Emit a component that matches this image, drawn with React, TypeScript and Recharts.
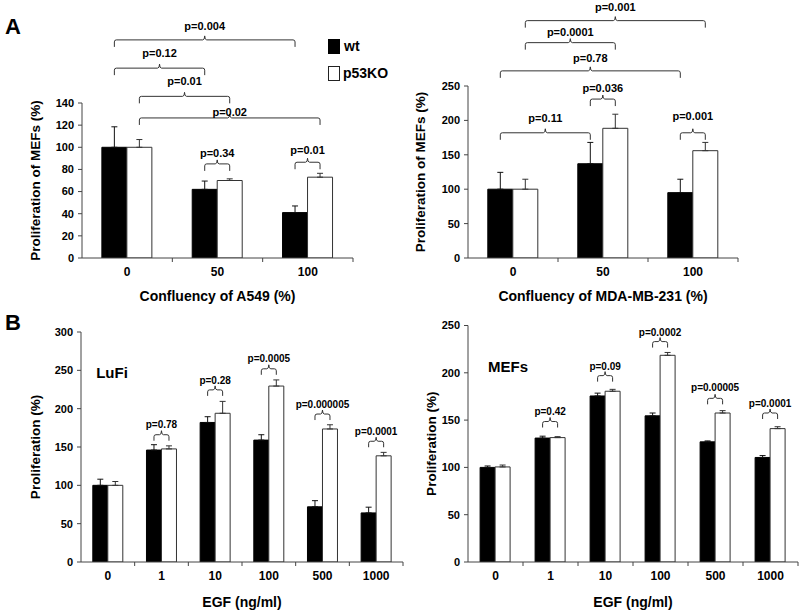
import React from 'react';
import { BarChart, Bar, XAxis, YAxis, ErrorBar, ReferenceLine, ReferenceDot } from 'recharts';

const FONT = '"Liberation Sans", Arial, Helvetica, sans-serif';
const AXIS = '#444';
const BRACKET = '#333';
const Y_AXIS_W = 60;

// ---------- Series ----------
const seriesNames = ['wt', 'p53KO'];

// Panel A (left): co-culture with A549
const a549Categories = ['0', '50', '100'];
const a549Wt = [100, 62, 41];
const a549WtErr = [18.5, 7.5, 6];
const a549Ko = [100, 70, 73];
const a549KoErr = [7, 1.5, 3.5];
const a549Ticks = [0, 20, 40, 60, 80, 100, 120, 140];

// Panel A (right): co-culture with MDA-MB-231
const mdaCategories = ['0', '50', '100'];
const mdaWt = [100, 137, 95];
const mdaWtErr = [24.5, 31, 19.5];
const mdaKo = [100, 188.5, 156];
const mdaKoErr = [14.5, 20.5, 12];
const mdaTicks = [0, 50, 100, 150, 200, 250];

// Panel B (left): LuFi, EGF
const egfCategories = ['0', '1', '10', '100', '500', '1000'];
const lufiWt = [100, 146, 182, 159, 72, 64];
const lufiWtErr = [8, 7, 7.5, 7, 8, 7.5];
const lufiKo = [100, 147.5, 194, 229.5, 173.5, 138.5];
const lufiKoErr = [5, 4, 15.5, 8, 5.5, 4.5];
const lufiTicks = [0, 50, 100, 150, 200, 250, 300];

// Panel B (right): MEFs, EGF
const mefWt = [100, 131, 175.5, 154.5, 127, 110.5];
const mefWtErr = [1.5, 2, 3, 3, 1, 2];
const mefKo = [100.5, 131.5, 180.5, 218.5, 157.5, 141];
const mefKoErr = [2, 1, 2, 3, 2.5, 2];
const mefTicks = [0, 50, 100, 150, 200, 250];

// ---------- Significance brackets: from bar, to bar, bracket level, label level ----------
type S = 'wt' | 'ko';
type Br = { p: string; a: [number, S]; b: [number, S]; y: number; ly: number };

const a549Brackets: Br[] = [
  { p: 'p=0.004', a: [0, 'wt'], b: [2, 'wt'], y: 197, ly: 210 },
  { p: 'p=0.12', a: [0, 'wt'], b: [1, 'wt'], y: 171.5, ly: 185.5 },
  { p: 'p=0.01', a: [0, 'ko'], b: [1, 'ko'], y: 146, ly: 159.5 },
  { p: 'p=0.02', a: [0, 'ko'], b: [2, 'ko'], y: 126.5, ly: 131.5 },
  { p: 'p=0.34', a: [1, 'wt'], b: [1, 'ko'], y: 85, ly: 95 },
  { p: 'p=0.01', a: [2, 'wt'], b: [2, 'ko'], y: 86.5, ly: 97.5 },
];

const mdaBrackets: Br[] = [
  { p: 'p=0.001', a: [0, 'ko'], b: [2, 'ko'], y: 345, ly: 365 },
  { p: 'p=0.0001', a: [0, 'ko'], b: [1, 'ko'], y: 313, ly: 329 },
  { p: 'p=0.78', a: [0, 'wt'], b: [2, 'wt'], y: 272, ly: 290 },
  { p: 'p=0.036', a: [1, 'wt'], b: [1, 'ko'], y: 231, ly: 247 },
  { p: 'p=0.11', a: [0, 'wt'], b: [1, 'wt'], y: 182, ly: 203 },
  { p: 'p=0.001', a: [2, 'wt'], b: [2, 'ko'], y: 182, ly: 206 },
];

const lufiBrackets: Br[] = [
  { p: 'p=0.78', a: [1, 'wt'], b: [1, 'ko'], y: 166, ly: 180 },
  { p: 'p=0.28', a: [2, 'wt'], b: [2, 'ko'], y: 224.5, ly: 237 },
  { p: 'p=0.0005', a: [3, 'wt'], b: [3, 'ko'], y: 252, ly: 266 },
  { p: 'p=0.000005', a: [4, 'wt'], b: [4, 'ko'], y: 193, ly: 206 },
  { p: 'p=0.0001', a: [5, 'wt'], b: [5, 'ko'], y: 157.5, ly: 170 },
];

const mefBrackets: Br[] = [
  { p: 'p=0.42', a: [1, 'wt'], b: [1, 'ko'], y: 148.5, ly: 159 },
  { p: 'p=0.09', a: [2, 'wt'], b: [2, 'ko'], y: 197, ly: 207 },
  { p: 'p=0.0002', a: [3, 'wt'], b: [3, 'ko'], y: 233, ly: 243 },
  { p: 'p=0.00005', a: [4, 'wt'], b: [4, 'ko'], y: 173, ly: 184 },
  { p: 'p=0.0001', a: [5, 'wt'], b: [5, 'ko'], y: 157.5, ly: 168 },
];

// ---------- Drawing helpers ----------
const GAP = 0.22;

// offset of each bar's centre from its category centre, following Recharts' bar sizing
const barOffsets = (bw: number): Record<S, number> => {
  const off = GAP * bw;
  const size = Math.floor((bw - 2 * off) / 2);
  return { wt: off + size / 2 - bw / 2, ko: off + size * 1.5 - bw / 2 };
};

const bracketShape = (b: Br, offs: Record<S, number>, drop: number) => (p: any) => {
  const xa = p.x1 + offs[b.a[1]];
  const xb = p.x2 + offs[b.b[1]];
  const x1 = Math.min(xa, xb);
  const x2 = Math.max(xa, xb);
  const y = p.y1;
  const m = (x1 + x2) / 2;
  const r = 2;
  const d = `M${x1},${y + drop} L${x1},${y + r} Q${x1},${y} ${x1 + r},${y} L${m - r},${y} Q${m},${y} ${m},${y - 4} Q${m},${y} ${m + r},${y} L${x2 - r},${y} Q${x2},${y} ${x2},${y + r} L${x2},${y + drop}`;
  return <path d={d} fill="none" stroke={BRACKET} strokeWidth={1} />;
};

const labelShape = (b: Br, offs: Record<S, number>, bw: number, size: number) => (p: any) => {
  const x = p.cx + ((b.b[0] - b.a[0]) * bw + offs[b.a[1]] + offs[b.b[1]]) / 2;
  return (
    <text x={x} y={p.cy} textAnchor="middle" dominantBaseline="central" fontFamily={FONT} fontWeight={700} fontSize={size} fill="#000">
      {b.p}
    </text>
  );
};

const axisTickShape = (bw: number) => (p: any) => {
  const y = Math.max(p.y1, p.y2);
  const x = p.x1 + bw / 2;
  return <line x1={x} x2={x} y1={y} y2={y + 4} stroke={AXIS} strokeWidth={1} />;
};

type PanelProps = {
  cats: string[];
  wt: number[];
  wtErr: number[];
  ko: number[];
  koErr: number[];
  ticks: number[];
  brackets: Br[];
  xLabel: string;
  yLabel: string;
  box: { left: number; top: number; width: number; height: number };
  margin: { top: number; right: number; bottom: number; left: number };
  xHeight: number;
  yLabelOffset: number;
  xLabelOffset: number;
  drop: number;
  pSize: number;
};

function Panel(props: PanelProps) {
  const { cats, wt, wtErr, ko, koErr, ticks, brackets, xLabel, yLabel, box, margin, xHeight, yLabelOffset, xLabelOffset, drop, pSize } = props;
  const data = cats.map((c, i) => ({ cat: c, wt: wt[i], ko: ko[i], wtE: [0, wtErr[i]], koE: [0, koErr[i]] }));
  const n = cats.length;
  const bw = (box.width - margin.left - margin.right - Y_AXIS_W) / n;
  const offs = barOffsets(bw);
  const textStyle = { fontFamily: FONT, fontWeight: 700, fill: '#000' };
  return (
    <div style={{ position: 'absolute', left: box.left, top: box.top }}>
      <BarChart width={box.width} height={box.height} data={data} margin={margin} barCategoryGap={`${GAP * 100}%`} barGap={0}>
        <XAxis
          dataKey="cat"
          type="category"
          height={xHeight}
          interval={0}
          tickLine={false}
          axisLine={{ stroke: AXIS, strokeWidth: 1 }}
          tickSize={4}
          tickMargin={5}
          tick={{ ...textStyle, fontSize: 12 }}
          label={{ value: xLabel, position: 'insideBottom', offset: xLabelOffset, fontFamily: FONT, fontWeight: 700, fontSize: 14, fill: '#000' }}
        />
        <YAxis
          type="number"
          domain={[0, ticks[ticks.length - 1]]}
          ticks={ticks}
          interval={0}
          width={Y_AXIS_W}
          allowDataOverflow
          tickSize={4}
          tickMargin={4}
          axisLine={{ stroke: AXIS, strokeWidth: 1 }}
          tickLine={{ stroke: AXIS, strokeWidth: 1 }}
          tick={{ ...textStyle, fontSize: 11 }}
          label={{
            value: yLabel,
            angle: -90,
            position: 'insideLeft',
            offset: yLabelOffset,
            fontFamily: FONT,
            fontWeight: 700,
            fontSize: 13.5,
            fill: '#000',
            style: { textAnchor: 'middle' },
          }}
        />
        <Bar dataKey="wt" name={seriesNames[0]} fill="#000" stroke="#000" strokeWidth={1} isAnimationActive={false}>
          <ErrorBar dataKey="wtE" width={3} stroke="#111" strokeWidth={1} isAnimationActive={false} />
        </Bar>
        <Bar dataKey="ko" name={seriesNames[1]} fill="#fff" stroke="#333" strokeWidth={1} isAnimationActive={false}>
          <ErrorBar dataKey="koE" width={3} stroke="#333" strokeWidth={1} isAnimationActive={false} />
        </Bar>
        {cats.map((c) => (
          <ReferenceLine key={`t${c}`} x={c} ifOverflow="visible" shape={axisTickShape(bw)} />
        ))}
        {brackets.map((b, i) => (
          <ReferenceLine
            key={`b${i}`}
            ifOverflow="visible"
            segment={[
              { x: cats[b.a[0]], y: b.y },
              { x: cats[b.b[0]], y: b.y },
            ]}
            shape={bracketShape(b, offs, drop)}
          />
        ))}
        {brackets.map((b, i) => (
          <ReferenceDot
            key={`l${i}`}
            x={cats[b.a[0]]}
            y={b.ly}
            r={0}
            ifOverflow="visible"
            shape={labelShape(b, offs, bw, pSize)}
          />
        ))}
      </BarChart>
    </div>
  );
}

export default function App() {
  const txt = { position: 'absolute' as const, fontFamily: FONT, fontWeight: 700, color: '#000', whiteSpace: 'nowrap' as const };
  return (
    <div style={{ position: 'absolute', left: 0, top: 0, width: 800, height: 611, background: '#fff', overflow: 'hidden' }}>
      <Panel
        cats={a549Categories}
        wt={a549Wt}
        wtErr={a549WtErr}
        ko={a549Ko}
        koErr={a549KoErr}
        ticks={a549Ticks}
        brackets={a549Brackets}
        xLabel="Confluency of A549 (%)"
        yLabel="Proliferation of MEFs (%)"
        box={{ left: 0, top: 0, width: 400, height: 310 }}
        margin={{ top: 103, right: 47, bottom: 8, left: 22 }}
        xHeight={44}
        yLabelOffset={13}
        xLabelOffset={1}
        drop={7}
        pSize={11}
      />
      <Panel
        cats={mdaCategories}
        wt={mdaWt}
        wtErr={mdaWtErr}
        ko={mdaKo}
        koErr={mdaKoErr}
        ticks={mdaTicks}
        brackets={mdaBrackets}
        xLabel="Confluency of MDA-MB-231 (%)"
        yLabel="Proliferation of MEFs (%)"
        box={{ left: 400, top: 0, width: 400, height: 310 }}
        margin={{ top: 86, right: 62, bottom: 8, left: 8 }}
        xHeight={44}
        yLabelOffset={12.5}
        xLabelOffset={1}
        drop={7}
        pSize={11}
      />
      <Panel
        cats={egfCategories}
        wt={lufiWt}
        wtErr={lufiWtErr}
        ko={lufiKo}
        koErr={lufiKoErr}
        ticks={lufiTicks}
        brackets={lufiBrackets}
        xLabel="EGF (ng/ml)"
        yLabel="Proliferation (%)"
        box={{ left: 0, top: 300, width: 410, height: 311 }}
        margin={{ top: 32, right: 7, bottom: 3, left: 21 }}
        xHeight={46}
        yLabelOffset={14}
        xLabelOffset={1}
        drop={6}
        pSize={10}
      />
      <Panel
        cats={egfCategories}
        wt={mefWt}
        wtErr={mefWtErr}
        ko={mefKo}
        koErr={mefKoErr}
        ticks={mefTicks}
        brackets={mefBrackets}
        xLabel="EGF (ng/ml)"
        yLabel="Proliferation (%)"
        box={{ left: 400, top: 300, width: 400, height: 311 }}
        margin={{ top: 25.5, right: 2, bottom: 3, left: 8 }}
        xHeight={46}
        yLabelOffset={23.5}
        xLabelOffset={1}
        drop={6}
        pSize={10}
      />

      {/* panel letters */}
      <div style={{ ...txt, left: 5, top: 14, fontSize: 22, lineHeight: '26px' }}>A</div>
      <div style={{ ...txt, left: 5, top: 310, fontSize: 22, lineHeight: '26px' }}>B</div>

      {/* cell-type labels */}
      <div style={{ ...txt, left: 112, top: 373, fontSize: 15, lineHeight: '18px', transform: 'translate(-50%, -50%)' }}>LuFi</div>
      <div style={{ ...txt, left: 508, top: 367, fontSize: 15, lineHeight: '18px', transform: 'translate(-50%, -50%)' }}>MEFs</div>

      {/* legend */}
      {seriesNames.map((name, i) => (
        <div key={name} style={{ position: 'absolute', left: 328, top: 39 + i * 26.5, height: 15, display: 'flex', alignItems: 'center' }}>
          <div
            style={{
              width: i === 0 ? 12 : 10,
              height: i === 0 ? 15 : 13,
              background: i === 0 ? '#000' : '#fff',
              border: i === 0 ? 'none' : '1px solid #222',
              marginRight: i === 0 ? 4 : 3,
            }}
          />
          <span style={{ fontFamily: FONT, fontWeight: 700, fontSize: 14, lineHeight: '15px', color: '#000' }}>{name}</span>
        </div>
      ))}
    </div>
  );
}
